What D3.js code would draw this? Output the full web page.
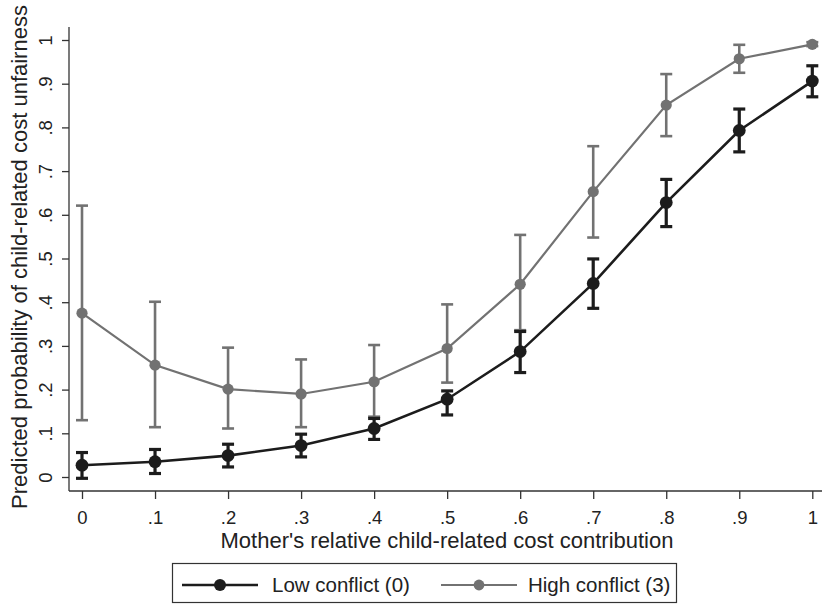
<!DOCTYPE html>
<html>
<head>
<meta charset="utf-8">
<script src="https://cdn.jsdelivr.net/npm/d3@7"></script>
<style>
  body { margin: 0; background: #fff; }
  text { font-family: "Liberation Sans", Arial, sans-serif; fill: #222; }
</style>
</head>
<body>
<script>
// predicted probabilities by mother's share, two conflict levels

var xValues = [0, 0.1, 0.2, 0.3, 0.4, 0.5, 0.6, 0.7, 0.8, 0.9, 1];

var lowMean  = [0.027, 0.035, 0.049, 0.072, 0.111, 0.178, 0.287, 0.443, 0.628, 0.793, 0.906];
var lowLo    = [-0.003, 0.008, 0.023, 0.046, 0.086, 0.142, 0.239, 0.386, 0.573, 0.744, 0.870];
var lowHi    = [0.056, 0.063, 0.075, 0.098, 0.134, 0.197, 0.333, 0.499, 0.681, 0.842, 0.941];

var highMean = [0.375, 0.256, 0.201, 0.190, 0.218, 0.294, 0.441, 0.653, 0.851, 0.957, 0.990];
var highLo   = [0.130, 0.114, 0.111, 0.114, 0.138, 0.216, 0.336, 0.548, 0.780, 0.925, 0.986];
var highHi   = [0.621, 0.401, 0.296, 0.269, 0.302, 0.395, 0.554, 0.757, 0.922, 0.989, 0.995];

var xTicks = [0, 0.1, 0.2, 0.3, 0.4, 0.5, 0.6, 0.7, 0.8, 0.9, 1];
var xTickLabels = ["0", ".1", ".2", ".3", ".4", ".5", ".6", ".7", ".8", ".9", "1"];
var yTicks = [0, 0.1, 0.2, 0.3, 0.4, 0.5, 0.6, 0.7, 0.8, 0.9, 1];
var yTickLabels = ["0", ".1", ".2", ".3", ".4", ".5", ".6", ".7", ".8", ".9", "1"];

var seriesNames = ["Low conflict (0)", "High conflict (3)"];
var seriesColors = ["#1c1c1c", "#727272"];

var width = 822, height = 605;

var svg = d3.select("body").append("svg")
    .attr("width", width)
    .attr("height", height);

var x = d3.scaleLinear().domain([0, 1]).range([82, 812.3]);
var y = d3.scaleLinear().domain([0, 1]).range([477, 40]);

// axes
var xAxis = d3.axisBottom(x)
    .tickValues(xTicks)
    .tickFormat(function(d, i) { return xTickLabels[i]; })
    .tickSize(8)
    .tickPadding(12)
    .tickSizeOuter(0);

var gx = svg.append("g")
    .attr("transform", "translate(0,491)")
    .call(xAxis);
gx.select(".domain").attr("d", "M69,0H822");
gx.selectAll("line, .domain").attr("stroke", "#333").attr("stroke-width", 1.3);
gx.selectAll("text")
    .style("font-size", "18.5px")
    .style("font-family", "Liberation Sans, Arial, sans-serif")
    .attr("fill", "#222");

var yAxis = d3.axisLeft(y)
    .tickValues(yTicks)
    .tickFormat(function(d, i) { return yTickLabels[i]; })
    .tickSize(7)
    .tickSizeOuter(0);

var gy = svg.append("g")
    .attr("transform", "translate(69,0)")
    .call(yAxis);
gy.select(".domain").attr("d", "M0,27V491");
gy.selectAll("line, .domain").attr("stroke", "#333").attr("stroke-width", 1.3);
gy.selectAll("text")
    .attr("x", 0).attr("dy", null)
    .attr("transform", "translate(-17,0) rotate(-90)")
    .attr("text-anchor", "middle")
    .style("font-size", "18.5px")
    .style("font-family", "Liberation Sans, Arial, sans-serif")
    .attr("fill", "#222");

// axis titles
svg.append("text")
    .attr("x", 447)
    .attr("y", 547.5)
    .attr("text-anchor", "middle")
    .style("font-size", "22px")
    .text("Mother's relative child-related cost contribution");

svg.append("text")
    .attr("transform", "translate(27,257) rotate(-90)")
    .attr("text-anchor", "middle")
    .style("font-size", "22px")
    .text("Predicted probability of child-related cost unfairness");

// series
var series = [
  { name: seriesNames[1], color: seriesColors[1], mean: highMean, lo: highLo, hi: highHi, lw: 2.2, r: 5.6, bw: 2.6 },
  { name: seriesNames[0], color: seriesColors[0], mean: lowMean, lo: lowLo, hi: lowHi, lw: 2.6, r: 6.4, bw: 3.2 }
];

var line = d3.line()
    .x(function(d) { return x(d.x); })
    .y(function(d) { return y(d.v); });

var capW = 6;

series.forEach(function(s) {
  var pts = xValues.map(function(xv, i) {
    return { x: xv, v: s.mean[i], lo: s.lo[i], hi: s.hi[i] };
  });
  var g = svg.append("g");

  var bars = g.selectAll(".bar").data(pts).enter().append("g")
      .attr("stroke", s.color)
      .attr("stroke-width", s.bw);
  bars.append("line")
      .attr("x1", function(d) { return x(d.x); })
      .attr("x2", function(d) { return x(d.x); })
      .attr("y1", function(d) { return y(d.lo); })
      .attr("y2", function(d) { return y(d.hi); });
  bars.append("line")
      .attr("x1", function(d) { return x(d.x) - capW; })
      .attr("x2", function(d) { return x(d.x) + capW; })
      .attr("y1", function(d) { return y(d.lo); })
      .attr("y2", function(d) { return y(d.lo); });
  bars.append("line")
      .attr("x1", function(d) { return x(d.x) - capW; })
      .attr("x2", function(d) { return x(d.x) + capW; })
      .attr("y1", function(d) { return y(d.hi); })
      .attr("y2", function(d) { return y(d.hi); });

  g.append("path")
      .datum(pts)
      .attr("d", line)
      .attr("fill", "none")
      .attr("stroke", s.color)
      .attr("stroke-width", s.lw);

  g.selectAll("circle").data(pts).enter().append("circle")
      .attr("cx", function(d) { return x(d.x); })
      .attr("cy", function(d) { return y(d.v); })
      .attr("r", s.r)
      .attr("fill", s.color);
});

// legend
var legend = svg.append("g");
legend.append("rect")
    .attr("x", 172.5).attr("y", 563.5)
    .attr("width", 504).attr("height", 39)
    .attr("fill", "#fff")
    .attr("stroke", "#333")
    .attr("stroke-width", 1.2);

var legendItems = [
  { name: seriesNames[0], color: seriesColors[0], x0: 182, x1: 258, tx: 272, lw: 2.6, r: 6 },
  { name: seriesNames[1], color: seriesColors[1], x0: 441, x1: 517, tx: 528, lw: 2.2, r: 5.4 }
];
legendItems.forEach(function(it) {
  legend.append("line")
      .attr("x1", it.x0).attr("x2", it.x1)
      .attr("y1", 585).attr("y2", 585)
      .attr("stroke", it.color).attr("stroke-width", it.lw);
  legend.append("circle")
      .attr("cx", (it.x0 + it.x1) / 2).attr("cy", 585)
      .attr("r", it.r).attr("fill", it.color);
  legend.append("text")
      .attr("x", it.tx).attr("y", 591.5)
      .style("font-size", "20.5px")
      .text(it.name);
});
</script>
</body>
</html>
